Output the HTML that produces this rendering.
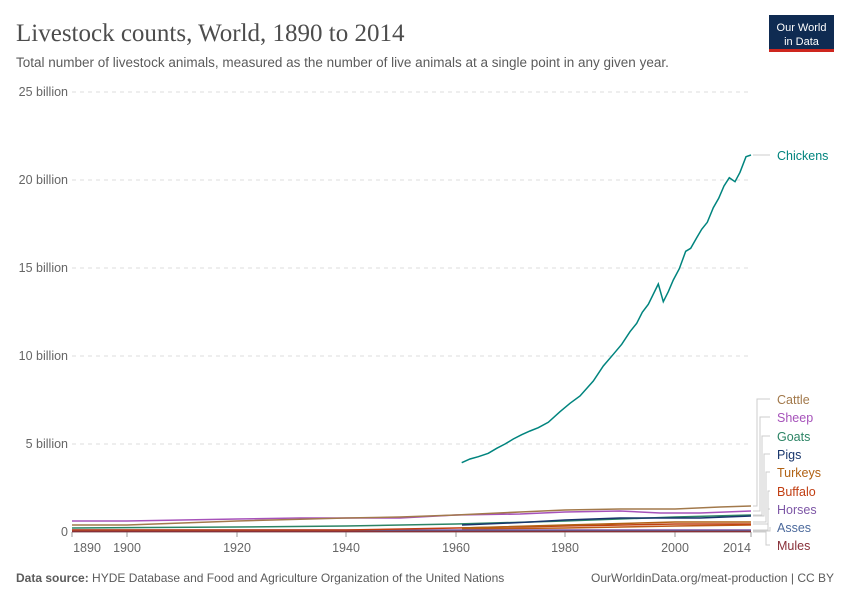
<!DOCTYPE html>
<html><head><meta charset="utf-8"><style>
body{margin:0;background:#fff;font-family:"Liberation Sans",sans-serif}
</style></head><body>
<svg width="850" height="600" xmlns="http://www.w3.org/2000/svg" font-family="Liberation Sans, sans-serif">
<text x="16" y="41" font-family="Liberation Serif, serif" font-size="25" fill="#4d4d4d">Livestock counts, World, 1890 to 2014</text>
<text x="16" y="67" font-size="13.5" fill="#5b5b5b">Total number of livestock animals, measured as the number of live animals at a single point in any given year.</text>
<rect x="769" y="15" width="65" height="36" fill="#0f2b52"/>
<rect x="769" y="49" width="65" height="3" fill="#ce261e"/>
<text x="801.5" y="31" font-size="11" fill="#fff" text-anchor="middle">Our World</text>
<text x="801.5" y="45" font-size="11" fill="#fff" text-anchor="middle">in Data</text>
<g stroke="#ddd" stroke-dasharray="4,4">
<line x1="72" x2="751" y1="92" y2="92"/><line x1="72" x2="751" y1="180" y2="180"/><line x1="72" x2="751" y1="268" y2="268"/><line x1="72" x2="751" y1="356" y2="356"/><line x1="72" x2="751" y1="444" y2="444"/>
</g>
<g font-size="12.5" fill="#666" text-anchor="end">
<text x="68" y="96">25 billion</text><text x="68" y="184">20 billion</text><text x="68" y="272">15 billion</text><text x="68" y="360">10 billion</text><text x="68" y="448">5 billion</text><text x="68" y="536">0</text>
</g>
<line x1="72" x2="751" y1="532" y2="532" stroke="#999"/>
<g stroke="#999"><line x1="72" x2="72" y1="532" y2="537"/><line x1="127" x2="127" y1="532" y2="537"/><line x1="237" x2="237" y1="532" y2="537"/><line x1="346" x2="346" y1="532" y2="537"/><line x1="456" x2="456" y1="532" y2="537"/><line x1="565" x2="565" y1="532" y2="537"/><line x1="675" x2="675" y1="532" y2="537"/><line x1="751" x2="751" y1="532" y2="537"/></g>
<g font-size="12.5" fill="#666" text-anchor="middle">
<text x="87" y="552">1890</text><text x="127" y="552">1900</text><text x="237" y="552">1920</text><text x="346" y="552">1940</text><text x="456" y="552">1960</text><text x="565" y="552">1980</text><text x="675" y="552">2000</text><text x="737" y="552">2014</text>
</g>
<g fill="none" stroke-width="1.5">
<polyline stroke="#be5915" points="462,529 565,528 675,526 751,525"/>
<polyline stroke="#7d56a6" points="72,530 456,530 751,530"/>
<polyline stroke="#4c6a9c" points="72,531 456,531 751,531"/>
<polyline stroke="#883039" points="72,531.5 751,531.5"/>
<polyline stroke="#c13e12" points="72,530 346,530 456,528 565,526 675,524 751,524"/>
<polyline stroke="#b16214" points="462,528 565,525 675,522 751,522"/>
<polyline stroke="#2c8465" points="72,528 237,527 346,526 456,524 565,521 675,517 751,515"/>
<polyline stroke="#18356b" points="462,525 510,523 530,522 565,520 620,518 675,518 700,518 751,516"/>
<polyline stroke="#a652ba" points="72,521 127,521 237,519 300,518 346,518 400,518 456,515 520,514 565,512 620,511 660,513 700,513 751,511"/>
<polyline stroke="#a2794b" points="72,525 127,525 237,521 346,518 400,517 456,515 520,512 565,510 620,509 675,509 720,507 751,506"/>
<polyline stroke="#00847e" points="461.7,462.7 470,459 478.3,456.7 488.3,453.3 496.7,448.3 505,444 513.3,439 521.7,434.7 530,431 538.3,427.7 548.3,422.3 560,411.7 570,403.3 580,396 593.3,381 603.3,366 613.3,354.3 621.7,344.3 630,331.7 636.7,323.3 642.3,312.3 648.3,304.3 658.3,284 663.3,301.7 668.3,291.7 673.3,280 679.3,268.7 685.7,251.3 690.7,248.3 696.7,237.7 701.7,229.3 707.3,222.3 713.3,207.7 718.7,198.3 724,186 729.3,177.7 735,181.7 740,172.3 746,156.7 751,155"/>
</g>
<g fill="none" stroke="#ccc">
<path d="M753,155 H770"/>
<path d="M753,506 H757 V399 H770"/>
<path d="M753,511 H760 V417 H770"/>
<path d="M753,515 H762 V436 H770"/>
<path d="M753,516 H764 V454 H770"/>
<path d="M753,522 H766 V472 H770"/>
<path d="M753,524 H768 V491 H770"/>
<path d="M753,530 H768 V509 H770"/>
<path d="M753,531 H770 V527"/>
<path d="M753,532 H766 V545 H770"/>
</g>
<g font-size="12.5">
<text x="777" y="160" fill="#00847e">Chickens</text>
<text x="777" y="404" fill="#a2794b">Cattle</text>
<text x="777" y="422" fill="#a652ba">Sheep</text>
<text x="777" y="441" fill="#2c8465">Goats</text>
<text x="777" y="459" fill="#18356b">Pigs</text>
<text x="777" y="477" fill="#b16214">Turkeys</text>
<text x="777" y="496" fill="#c13e12">Buffalo</text>
<text x="777" y="514" fill="#7d56a6">Horses</text>
<text x="777" y="532" fill="#4c6a9c">Asses</text>
<text x="777" y="550" fill="#883039">Mules</text>
</g>
<text x="16" y="582" font-size="12" fill="#5b5b5b"><tspan font-weight="bold">Data source:</tspan> HYDE Database and Food and Agriculture Organization of the United Nations</text>
<text x="834" y="582" font-size="12" fill="#5b5b5b" text-anchor="end">OurWorldinData.org/meat-production | CC BY</text>
</svg>
</body></html>
